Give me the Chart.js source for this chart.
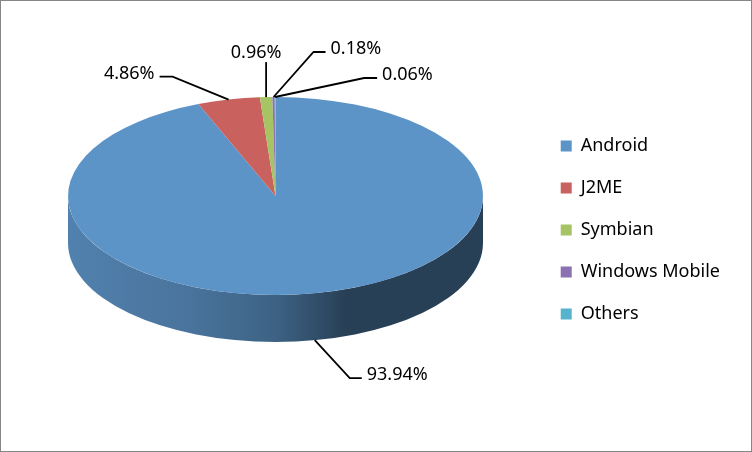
<!DOCTYPE html>
<html>
<head>
<meta charset="utf-8">
<script src="https://cdn.jsdelivr.net/npm/chart.js@4.4.1/dist/chart.umd.min.js"></script>
<style>
  html, body { margin: 0; padding: 0; background: #fff; }
  canvas { display: block; }
</style>
</head>
<body>
<canvas id="chartPie" width="752" height="452"></canvas>
<script>
var platforms = ["Android", "J2ME", "Symbian", "Windows Mobile", "Others"];
var shares = [93.94, 4.86, 0.96, 0.18, 0.06];
var sliceColours = ["#5D94C8", "#C9625E", "#A6C463", "#8C71B0", "#57B3CD"];

/* where the flattened pie sits on the canvas (top face ellipse + thickness) */
var pieX = 275.5, pieY = 196, pieRX = 207.5, pieRY = 99, pieDepth = 47;

/* side wall shading, left to right: [stop, brightness] */
var sideStops = [[0, 0.87], [0.3, 0.78], [0.5, 0.66], [0.67, 0.43], [1, 0.43]];

/* leader line bends relative to the slice edge, then the short horizontal tails */
var labelBends = [[35, 38], [-56, -23], [0, -35], [40, -45], [89, -19]];
var labelTails = [12, -13, 0, 12, 13];

var labelFont = "18px 'Noto Sans'";

function shade(hex, f){
  var n = parseInt(hex.slice(1), 16);
  var r = Math.round(((n >> 16) & 255) * f);
  var g = Math.round(((n >> 8) & 255) * f);
  var b = Math.round((n & 255) * f);
  return "rgb(" + r + "," + g + "," + b + ")";
}

/* Draws the wall of the pie, then squashes the library's arcs into the top face
*/
var pie3d = {
  id: 'pie3d',
  beforeDatasetsDraw: function(chart){
    var ctx = chart.ctx;
    var arcs = chart.getDatasetMeta(0).data;
    ctx.save();
    arcs.forEach(function(arc, i){
      for (var k = -1; k <= 1; k++){
        var a0 = Math.max(arc.startAngle, 2 * Math.PI * k);
        var a1 = Math.min(arc.endAngle, 2 * Math.PI * k + Math.PI);
        if (a1 <= a0) continue;
        var grad = ctx.createLinearGradient(pieX - pieRX, 0, pieX + pieRX, 0);
        sideStops.forEach(function(s){
          grad.addColorStop(s[0], shade(sliceColours[i], s[1]));
        });
        ctx.beginPath();
        ctx.ellipse(pieX, pieY, pieRX, pieRY, 0, a0, a1);
        ctx.ellipse(pieX, pieY + pieDepth, pieRX, pieRY, 0, a1, a0, true);
        ctx.closePath();
        ctx.fillStyle = grad;
        ctx.fill();
      }
    });
    ctx.restore();

    var first = arcs[0];
    var r = first.outerRadius;
    ctx.save();
    ctx.translate(pieX, pieY);
    ctx.scale(pieRX / r, pieRY / r);
    ctx.translate(-first.x, -first.y);
  },
  afterDatasetsDraw: function(chart){
    var ctx = chart.ctx;
    ctx.restore();

    var arcs = chart.getDatasetMeta(0).data;
    ctx.save();
    ctx.strokeStyle = "#000";
    ctx.lineWidth = 1.8;
    ctx.fillStyle = "#000";
    ctx.font = labelFont;
    ctx.textBaseline = "alphabetic";
    arcs.forEach(function(arc, i){
      var mid = (arc.startAngle + arc.endAngle) / 2;
      var ax = pieX + pieRX * Math.cos(mid);
      var ay = pieY + pieRY * Math.sin(mid);
      if (Math.sin(mid) > 0) ay += pieDepth;
      var bx = ax + labelBends[i][0];
      var by = ay + labelBends[i][1];
      var tx = bx + labelTails[i];
      ctx.beginPath();
      ctx.moveTo(ax, ay);
      ctx.lineTo(bx, by);
      ctx.lineTo(tx, by);
      ctx.stroke();
      var text = shares[i].toFixed(2) + "%";
      if (labelTails[i] > 0){
        ctx.textAlign = "left";
        ctx.fillText(text, tx + 5, by + 2);
      } else if (labelTails[i] < 0){
        ctx.textAlign = "right";
        ctx.fillText(text, tx - 5, by + 2);
      } else {
        ctx.textAlign = "center";
        ctx.fillText(text, bx - 10, by - 4.5);
      }
    });
    ctx.restore();
  },
  afterDraw: function(chart){
    var ctx = chart.ctx;
    ctx.save();
    ctx.strokeStyle = "#868686";
    ctx.lineWidth = 1;
    ctx.strokeRect(0.5, 0.5, chart.width - 1, chart.height - 1);
    ctx.restore();
  }
};

function createPieChart(){
  var ctxP = document.getElementById("chartPie").getContext('2d');
  var myPieChart = new Chart(ctxP, {
    type: 'pie',
    data: {
      labels: platforms,
      datasets: [{
        data: shares,
        backgroundColor: sliceColours,
        borderWidth: 0,
        clip: false
      }]
    },
    options: {
      responsive: false,
      animation: false,
      layout: { padding: { top: 8, left: 10, right: 22, bottom: 0 } },
      plugins: {
        tooltip: { enabled: false },
        legend: {
          position: 'right',
          labels: {
            boxWidth: 11,
            boxHeight: 11,
            padding: 24,
            color: "#000",
            font: { family: "Noto Sans", size: 18 }
          }
        }
      }
    },
    plugins: [pie3d]
  });
}

createPieChart();
</script>
</body>
</html>
